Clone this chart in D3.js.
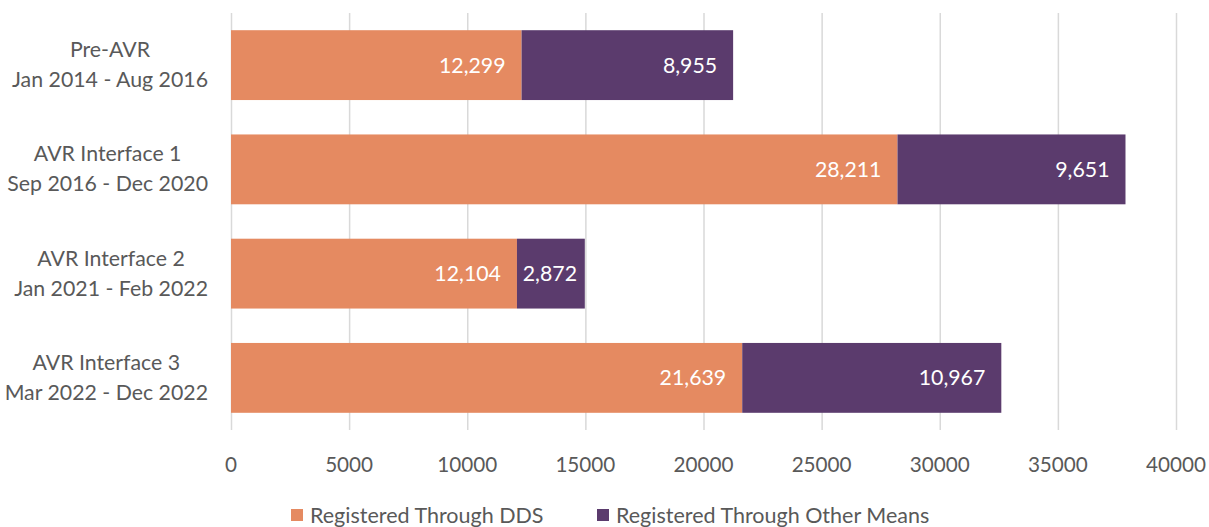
<!DOCTYPE html>
<html>
<head>
    <meta charset="UTF-8">
    <title>AVR registrations</title>
    <style>
        body { margin: 0; background: #fff; }
        svg text { font-family: Lato, "Open Sans", sans-serif; }
    </style>
</head>
<body>
    <svg></svg>
    <script src="https://d3js.org/d3.v7.min.js"></script>
    <script>
        let width = 1209, height = 527

        // data
        let periods = ["Pre-AVR", "AVR Interface 1", "AVR Interface 2", "AVR Interface 3"]
        let periodDates = ["Jan 2014 - Aug 2016", "Sep 2016 - Dec 2020", "Jan 2021 - Feb 2022", "Mar 2022 - Dec 2022"]
        let dds = [12299, 28211, 12104, 21639]
        let other = [8955, 9651, 2872, 10967]
        let seriesNames = ["Registered Through DDS", "Registered Through Other Means"]
        let xTicks = [0, 5000, 10000, 15000, 20000, 25000, 30000, 35000, 40000]

        let colors = ["#E58A61", "#5B3B6D"]

        let svg = d3.select("svg")
            .attr("width", width)
            .attr("height", height)

        let x = d3.scaleLinear().domain([0, 40000]).range([231, 1176])
        let y = d3.scaleBand().domain(periods).range([13, 430])
            .paddingInner(0.33).paddingOuter(0.165)

        // gridlines
        svg.append("g")
            .selectAll("line")
            .data(xTicks)
            .enter()
            .append("line")
            .attr("x1", d => x(d) + 0.5)
            .attr("x2", d => x(d) + 0.5)
            .attr("y1", 13)
            .attr("y2", 430)
            .attr("stroke", "#d9d9d9")
            .attr("stroke-width", 1.5)

        // x axis labels
        svg.append("g")
            .selectAll("text")
            .data(xTicks)
            .enter()
            .append("text")
            .attr("x", d => x(d))
            .attr("y", 472)
            .attr("text-anchor", "middle")
            .attr("fill", "#595959")
            .style("font-size", "20.7px")
            .text(d => d)

        let rows = periods.map((p, i) => ({ name: p, vals: [dds[i], other[i]] }))

        let stacked = []
        rows.forEach(r => {
            let x0 = 0
            r.vals.forEach((v, j) => {
                stacked.push({ name: r.name, k: j, x0: x0, x1: x0 + v, v: v })
                x0 += v
            })
        })

        svg.append("g")
            .selectAll("rect")
            .data(stacked)
            .enter()
            .append("rect")
            .attr("x", d => x(d.x0))
            .attr("width", d => x(d.x1) - x(d.x0))
            .attr("y", d => y(d.name))
            .attr("height", y.bandwidth())
            .attr("fill", d => colors[d.k])

        // value labels, inside end (centred when the segment is too narrow)
        svg.append("g")
            .selectAll("text")
            .data(stacked)
            .enter()
            .append("text")
            .attr("y", d => y(d.name) + y.bandwidth() / 2 + 7.5)
            .attr("fill", "#fff")
            .style("font-size", "21.3px")
            .text(d => d3.format(",")(d.v))
            .each(function (d) {
                let w = this.getComputedTextLength()
                let segW = x(d.x1) - x(d.x0)
                if (w + 32 > segW) {
                    d3.select(this).attr("text-anchor", "middle").attr("x", (x(d.x0) + x(d.x1)) / 2 - 1)
                } else {
                    d3.select(this).attr("text-anchor", "end").attr("x", x(d.x1) - 16)
                }
            })

        // category labels (two lines, centred on each other, block right aligned)
        let cat = svg.append("g")
            .selectAll("g")
            .data(periods)
            .enter()
            .append("g")

        cat.each(function (p, i) {
            let g = d3.select(this)
            let cy = y(p) + y.bandwidth() / 2
            let t1 = g.append("text").attr("y", cy - 8).text(p)
            let t2 = g.append("text").attr("y", cy + 22).text(periodDates[i])
            g.selectAll("text")
                .attr("fill", "#595959")
                .attr("text-anchor", "middle")
                .style("font-size", "21.3px")
            let w = Math.max(t1.node().getComputedTextLength(), t2.node().getComputedTextLength())
            g.selectAll("text").attr("x", 208 - w / 2)
        })

        // legend
        let legend = svg.append("g")
        let lx = [291, 597]
        seriesNames.forEach((s, i) => {
            legend.append("rect")
                .attr("x", lx[i])
                .attr("y", 509)
                .attr("width", 12)
                .attr("height", 12)
                .attr("fill", colors[i])
            legend.append("text")
                .attr("x", lx[i] + 19)
                .attr("y", 523)
                .attr("fill", "#595959")
                .style("font-size", "21.5px")
                .text(s)
        })
    </script>
</body>
</html>
